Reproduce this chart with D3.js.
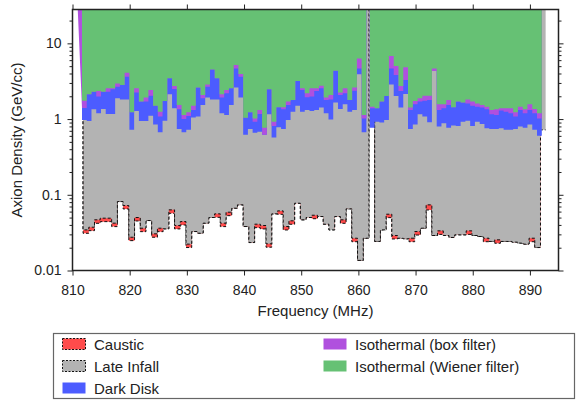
<!DOCTYPE html>
<html>
<head>
<meta charset="utf-8">
<script src="https://cdn.jsdelivr.net/npm/d3@7"></script>
<style>
  body { margin: 0; background: #fff; }
  text { font-family: "Liberation Sans", Arial, Helvetica, sans-serif; fill: #222; }
</style>
</head>
<body>
<svg id="chart" width="576" height="401"></svg>
<script>
// ---- axis ticks ----
const xTicks = [810, 820, 830, 840, 850, 860, 870, 880, 890];
const yTicks = [0.01, 0.1, 1, 10];
const yTickLabels = ['0.01', '0.1', '1', '10'];
const yMinorTicks = [0.02, 0.03, 0.04, 0.05, 0.06, 0.07, 0.08, 0.09,
                     0.2, 0.3, 0.4, 0.5, 0.6, 0.7, 0.8, 0.9,
                     2, 3, 4, 5, 6, 7, 8, 9, 20];

// ---- 1 MHz grid: caustic + late infall (bin edges, MHz) ----
const coarseEdges = [811.85, 812.85, 813.85, 814.85, 815.85, 816.85, 817.85, 818.85, 819.85, 820.85,
  821.85, 822.85, 823.85, 824.85, 825.85, 826.85, 827.85, 828.85, 829.85, 830.85,
  831.85, 832.85, 833.85, 834.85, 835.85, 836.85, 837.85, 838.85, 839.85, 840.85,
  841.85, 842.85, 843.85, 844.85, 845.85, 846.85, 847.85, 848.85, 849.85, 850.85,
  851.85, 852.85, 853.85, 854.85, 855.85, 856.85, 857.85, 858.85, 859.85, 860.85,
  861.85, 862.85, 863.85, 864.85, 865.85, 866.85, 867.85, 868.85, 869.85, 870.85,
  871.85, 872.85, 873.85, 874.85, 875.85, 876.85, 877.85, 878.85, 879.85, 880.85,
  881.85, 882.85, 883.85, 884.85, 885.85, 886.85, 887.85, 888.85, 889.85, 890.85,
  891.85, 892.75];

// GeV/cc; 1e4 = no limit in that bin (off the chart)
const lateInfall = [0.0344, 0.0373, 0.0467, 0.0491, 0.0491, 0.0422, 0.0814, 0.0721, 0.0275, 0.0501,
  0.0362, 0.0457, 0.0305, 0.0362, 0.0355, 0.0632, 0.0393, 0.0443, 0.0223, 0.0327,
  0.0311, 0.0422, 0.0501, 0.0560, 0.0422, 0.0589, 0.0665, 0.0736, 0.0381, 0.0234,
  0.0409, 0.0393, 0.0225, 0.0560, 0.0613, 0.0381, 0.0453, 0.0774, 0.0467, 0.0501,
  0.0537, 0.0516, 0.0409, 0.0344, 0.0516, 0.0467, 0.0652, 0.0267, 0.0136, 0.0267,
  1e4,
  0.0242, 0.0344, 0.0554, 0.0290, 0.0267, 0.0262, 0.0267, 0.0327, 0.0362, 0.0736,
  0.0290, 0.0334, 0.0290, 0.0273, 0.0296, 0.0296, 0.0334, 0.0290, 0.0281, 0.0267,
  0.0242, 0.0254, 0.0242, 0.0242, 0.0237, 0.0230, 0.0223, 0.0267, 0.0201,
  0.72];

const caustic = [0.0310, 0.0336, 0.0420, 0.0442, 0.0442, 0.0380, 0.0814, 0.0650, 0.0248, 0.0451,
  0.0326, 0.0457, 0.0275, 0.0326, 0.0355, 0.0569, 0.0354, 0.0399, 0.0201, 0.0327,
  0.0311, 0.0422, 0.0501, 0.0504, 0.0380, 0.0530, 0.0665, 0.0736, 0.0381, 0.0234,
  0.0368, 0.0354, 0.0203, 0.0560, 0.0552, 0.0343, 0.0408, 0.0774, 0.0467, 0.0501,
  0.0483, 0.0516, 0.0409, 0.0344, 0.0516, 0.0420, 0.0652, 0.0240, 0.0136, 0.0267,
  1e4,
  0.0242, 0.0344, 0.0499, 0.0261, 0.0267, 0.0262, 0.0240, 0.0294, 0.0362, 0.0630,
  0.0290, 0.0300, 0.0290, 0.0273, 0.0296, 0.0296, 0.0300, 0.0290, 0.0281, 0.0240,
  0.0242, 0.0229, 0.0242, 0.0242, 0.0237, 0.0230, 0.0223, 0.0240, 0.0201];

// ---- fine grid (~0.83 MHz): dark disk + isothermal, two scan runs ----
const fineEdgesA = [811.66, 812.49, 813.32, 814.15, 814.98, 815.81, 816.63, 817.46, 818.29, 819.12,
  819.95, 820.78, 821.61, 822.44, 823.27, 824.10, 824.92, 825.75, 826.58, 827.41,
  828.24, 829.07, 829.90, 830.73, 831.56, 832.39, 833.21, 834.04, 834.87, 835.70,
  836.53, 837.36, 838.19, 839.02, 839.85, 840.68, 841.50, 842.33, 843.16, 843.99,
  844.82, 845.65, 846.48, 847.31, 848.14, 848.97, 849.79, 850.62, 851.45, 852.28,
  853.11, 853.94, 854.77, 855.60, 856.43, 857.26, 858.08, 858.91, 859.74, 860.57,
  861.40];
const fineEdgesB = [862.00, 862.84, 863.67, 864.51, 865.34, 866.18, 867.01, 867.85, 868.68, 869.52,
  870.36, 871.19, 872.03, 872.86, 873.70, 874.53, 875.37, 876.21, 877.04, 877.88,
  878.71, 879.55, 880.38, 881.22, 882.05, 882.89, 883.73, 884.56, 885.40, 886.23,
  887.07, 887.90, 888.74, 889.57, 890.41, 891.24, 892.08];

const darkDiskA = [0.97, 0.94, 1.35, 1.19, 1.36, 1.17, 1.17, 1.88, 1.82, 1.82,
  0.72, 1.28, 0.94, 0.94, 1.11, 0.85, 0.67, 0.95, 2.12, 1.39,
  0.74, 0.67, 0.72, 1.05, 1.08, 1.53, 1.92, 1.82, 1.82, 1.19,
  1.13, 1.53, 2.62, 1.92, 0.62, 0.74, 0.66, 0.68, 0.62, 1.16,
  0.57, 0.78, 0.74, 0.97, 1.25, 1.50, 1.25, 1.32, 1.28, 1.32,
  1.42, 1.19, 0.99, 1.65, 1.36, 1.57, 1.25, 1.32, 3.90, 0.67];
const darkDiskB = [0.77, 0.925, 0.90, 0.97, 2.87, 2.02, 1.42, 2.14, 0.74, 0.85,
  1.16, 1.08, 0.91, 4.31, 0.795, 0.88, 0.77, 0.82, 0.81, 0.925,
  0.95, 0.81, 0.925, 0.86, 0.755, 0.74, 0.74, 0.755, 0.72, 0.72,
  0.74, 0.795, 0.77, 0.85, 0.72, 0.60];

const isoBoxLead = [810.6, 100]; // box-filter curve enters from above the frame
const isoBoxA = [1.40, 2.12, 2.30, 1.98, 2.30, 2.30, 2.47, 2.68, 2.82, 3.63,
  1.23, 2.25, 1.70, 1.70, 2.04, 1.50, 1.08, 1.73, 3.45, 2.50,
  1.35, 1.00, 1.10, 1.32, 2.62, 1.88, 2.68, 4.53, 3.45, 1.92,
  2.19, 2.55, 4.67, 3.63, 1.04, 1.23, 0.925, 1.17, 0.62, 2.47,
  0.81, 1.43, 1.35, 1.53, 1.79, 3.18, 2.42, 1.94, 1.98, 2.35,
  2.55, 1.79, 1.82, 4.35, 2.08, 2.19, 1.79, 2.37, 4.67, 1.02];
const isoBoxB = [1.39, 1.39, 1.70, 2.02, 4.67, 3.82, 2.35, 3.28, 1.32, 1.57,
  1.70, 1.75, 1.79, 4.31, 1.32, 1.39, 1.53, 1.43, 1.70, 1.65,
  1.61, 1.50, 1.46, 1.42, 1.35, 1.16, 1.13, 1.30, 1.25, 1.19,
  1.08, 1.32, 1.19, 1.32, 1.19, 1.02];

const isoWienerA = [1.75, 2.12, 2.30, 2.35, 2.30, 2.55, 2.55, 2.96, 2.82, 4.10,
  1.23, 2.55, 1.70, 1.92, 2.42, 1.50, 1.25, 1.73, 3.45, 2.73,
  1.53, 1.13, 1.23, 1.50, 2.62, 2.08, 2.87, 4.53, 3.45, 2.12,
  2.42, 2.55, 5.17, 3.93, 1.04, 1.23, 1.02, 1.32, 0.77, 2.47,
  0.925, 1.43, 1.43, 1.70, 1.79, 3.18, 2.55, 2.19, 2.55, 2.55,
  2.76, 1.92, 2.08, 4.35, 2.25, 2.55, 1.79, 2.62, 6.33, 1.13];
const isoWienerB = [1.46, 1.39, 1.70, 2.02, 6.80, 5.02, 2.73, 4.82, 1.42, 1.73,
  1.88, 2.04, 2.04, 4.67, 1.57, 1.57, 1.79, 1.43, 1.70, 1.65,
  1.82, 1.70, 1.61, 1.53, 1.46, 1.32, 1.35, 1.39, 1.39, 1.39,
  1.23, 1.46, 1.35, 1.57, 1.36, 1.19];

const legendItems = [
  { name: 'Caustic', color: '#ff4b4b', dashed: true },
  { name: 'Late Infall', color: '#b3b3b3', dashed: true },
  { name: 'Dark Disk', color: '#4c5cff', dashed: false },
  { name: 'Isothermal (box filter)', color: '#b050de', dashed: false },
  { name: 'Isothermal (Wiener filter)', color: '#66c174', dashed: false }
];
const colors = Object.fromEntries(legendItems.map(d => [d.name, d.color]));

// ---- layout ----
const svg = d3.select('#chart');
const plot = { left: 72.5, right: 558.5, top: 9.5, bottom: 270.5 };

const x = d3.scaleLinear().domain([810, 895]).range([plot.left, plot.right]);
const y = d3.scaleLog().domain([0.01, 28]).range([plot.bottom, plot.top]);

svg.append('clipPath').attr('id', 'plot-clip')
  .append('rect')
  .attr('x', plot.left).attr('y', plot.top)
  .attr('width', plot.right - plot.left).attr('height', plot.bottom - plot.top);

const layers = svg.append('g').attr('clip-path', 'url(#plot-clip)');

function stepPoints(edges, vals) {
  const pts = [];
  vals.forEach((v, i) => {
    pts.push([edges[i], v], [edges[i + 1], v]);
  });
  return pts;
}

// excluded region: from the limit up to the top of the frame
const area = d3.area()
  .x(d => x(d[0]))
  .y0(plot.top)
  .y1(d => y(d[1]));
const line = d3.line()
  .x(d => x(d[0]))
  .y(d => y(d[1]));

function drawLimit(pts, color, dashed) {
  layers.append('path')
    .attr('d', area(pts))
    .attr('fill', color)
    .attr('stroke', 'none');
  if (dashed) {
    layers.append('path')
      .attr('d', line(pts))
      .attr('fill', 'none')
      .attr('stroke', '#111')
      .attr('stroke-width', 1)
      .attr('stroke-dasharray', '3,2');
  }
}

// caustic, then late infall, each entering from the top
drawLimit([[coarseEdges[0], 1e4]].concat(stepPoints(coarseEdges, caustic)), colors['Caustic'], true);
drawLimit([[coarseEdges[0], 1e4]].concat(stepPoints(coarseEdges, lateInfall)), colors['Late Infall'], true);

drawLimit(stepPoints(fineEdgesA, darkDiskA), colors['Dark Disk'], false);
drawLimit(stepPoints(fineEdgesB, darkDiskB), colors['Dark Disk'], false);

drawLimit([isoBoxLead].concat(stepPoints(fineEdgesA, isoBoxA)), colors['Isothermal (box filter)'], false);
drawLimit(stepPoints(fineEdgesB, isoBoxB), colors['Isothermal (box filter)'], false);

drawLimit(stepPoints(fineEdgesA, isoWienerA), colors['Isothermal (Wiener filter)'], false);
drawLimit(stepPoints(fineEdgesB, isoWienerB), colors['Isothermal (Wiener filter)'], false);

// ---- axes ----
function styleAxis(g) {
  g.select('.domain').remove();
  g.selectAll('line').attr('stroke', '#222').attr('stroke-width', 1);
  g.selectAll('text').style('font-size', '14px').attr('fill', '#222');
}

svg.append('g')
  .attr('transform', `translate(0,${plot.bottom})`)
  .call(d3.axisBottom(x).tickValues(xTicks).tickSize(5).tickPadding(10).tickFormat(d3.format('d')))
  .call(styleAxis);
svg.append('g')
  .attr('transform', `translate(0,${plot.top})`)
  .call(d3.axisTop(x).tickValues(xTicks).tickSize(5).tickFormat(''))
  .call(styleAxis);

svg.append('g')
  .attr('transform', `translate(${plot.left},0)`)
  .call(d3.axisLeft(y).tickValues(yTicks).tickSize(5).tickPadding(6).tickFormat((d, i) => yTickLabels[i]))
  .call(styleAxis);
svg.append('g')
  .attr('transform', `translate(${plot.left},0)`)
  .call(d3.axisLeft(y).tickValues(yMinorTicks).tickSize(3).tickFormat(''))
  .call(styleAxis);
svg.append('g')
  .attr('transform', `translate(${plot.right},0)`)
  .call(d3.axisRight(y).tickValues(yTicks).tickSize(5).tickFormat(''))
  .call(styleAxis);
svg.append('g')
  .attr('transform', `translate(${plot.right},0)`)
  .call(d3.axisRight(y).tickValues(yMinorTicks).tickSize(3).tickFormat(''))
  .call(styleAxis);

svg.append('rect')
  .attr('x', plot.left).attr('y', plot.top)
  .attr('width', plot.right - plot.left).attr('height', plot.bottom - plot.top)
  .attr('fill', 'none')
  .attr('stroke', '#222')
  .attr('stroke-width', 1.5);

// axis titles
svg.append('text')
  .attr('x', (plot.left + plot.right) / 2)
  .attr('y', 316)
  .attr('text-anchor', 'middle')
  .style('font-size', '15px')
  .text('Frequency (MHz)');

svg.append('text')
  .attr('transform', `translate(22,${(plot.top + plot.bottom) / 2}) rotate(-90)`)
  .attr('text-anchor', 'middle')
  .style('font-size', '15px')
  .text('Axion Density (GeV/cc)');

// ---- legend ----
const legend = svg.append('g');
legend.append('rect')
  .attr('x', 53.5).attr('y', 333.5)
  .attr('width', 521).attr('height', 65)
  .attr('fill', '#fff')
  .attr('stroke', '#666')
  .attr('stroke-width', 1.2);

const legendPos = [[62, 344], [62, 366], [62, 388], [323, 344], [323, 366]];
const item = legend.selectAll('.legend-item')
  .data(legendItems)
  .enter()
  .append('g')
  .attr('class', 'legend-item')
  .attr('transform', (d, i) => `translate(${legendPos[i][0]},${legendPos[i][1]})`);

item.append('rect')
  .attr('x', 0.5).attr('y', -5.5)
  .attr('width', 23).attr('height', 11)
  .attr('fill', d => d.color)
  .attr('stroke', d => d.dashed ? '#111' : 'none')
  .attr('stroke-width', 1)
  .attr('stroke-dasharray', '2,1.5');

item.append('text')
  .attr('x', 32)
  .attr('y', 5.5)
  .style('font-size', '15px')
  .text(d => d.name);
</script>
</body>
</html>
